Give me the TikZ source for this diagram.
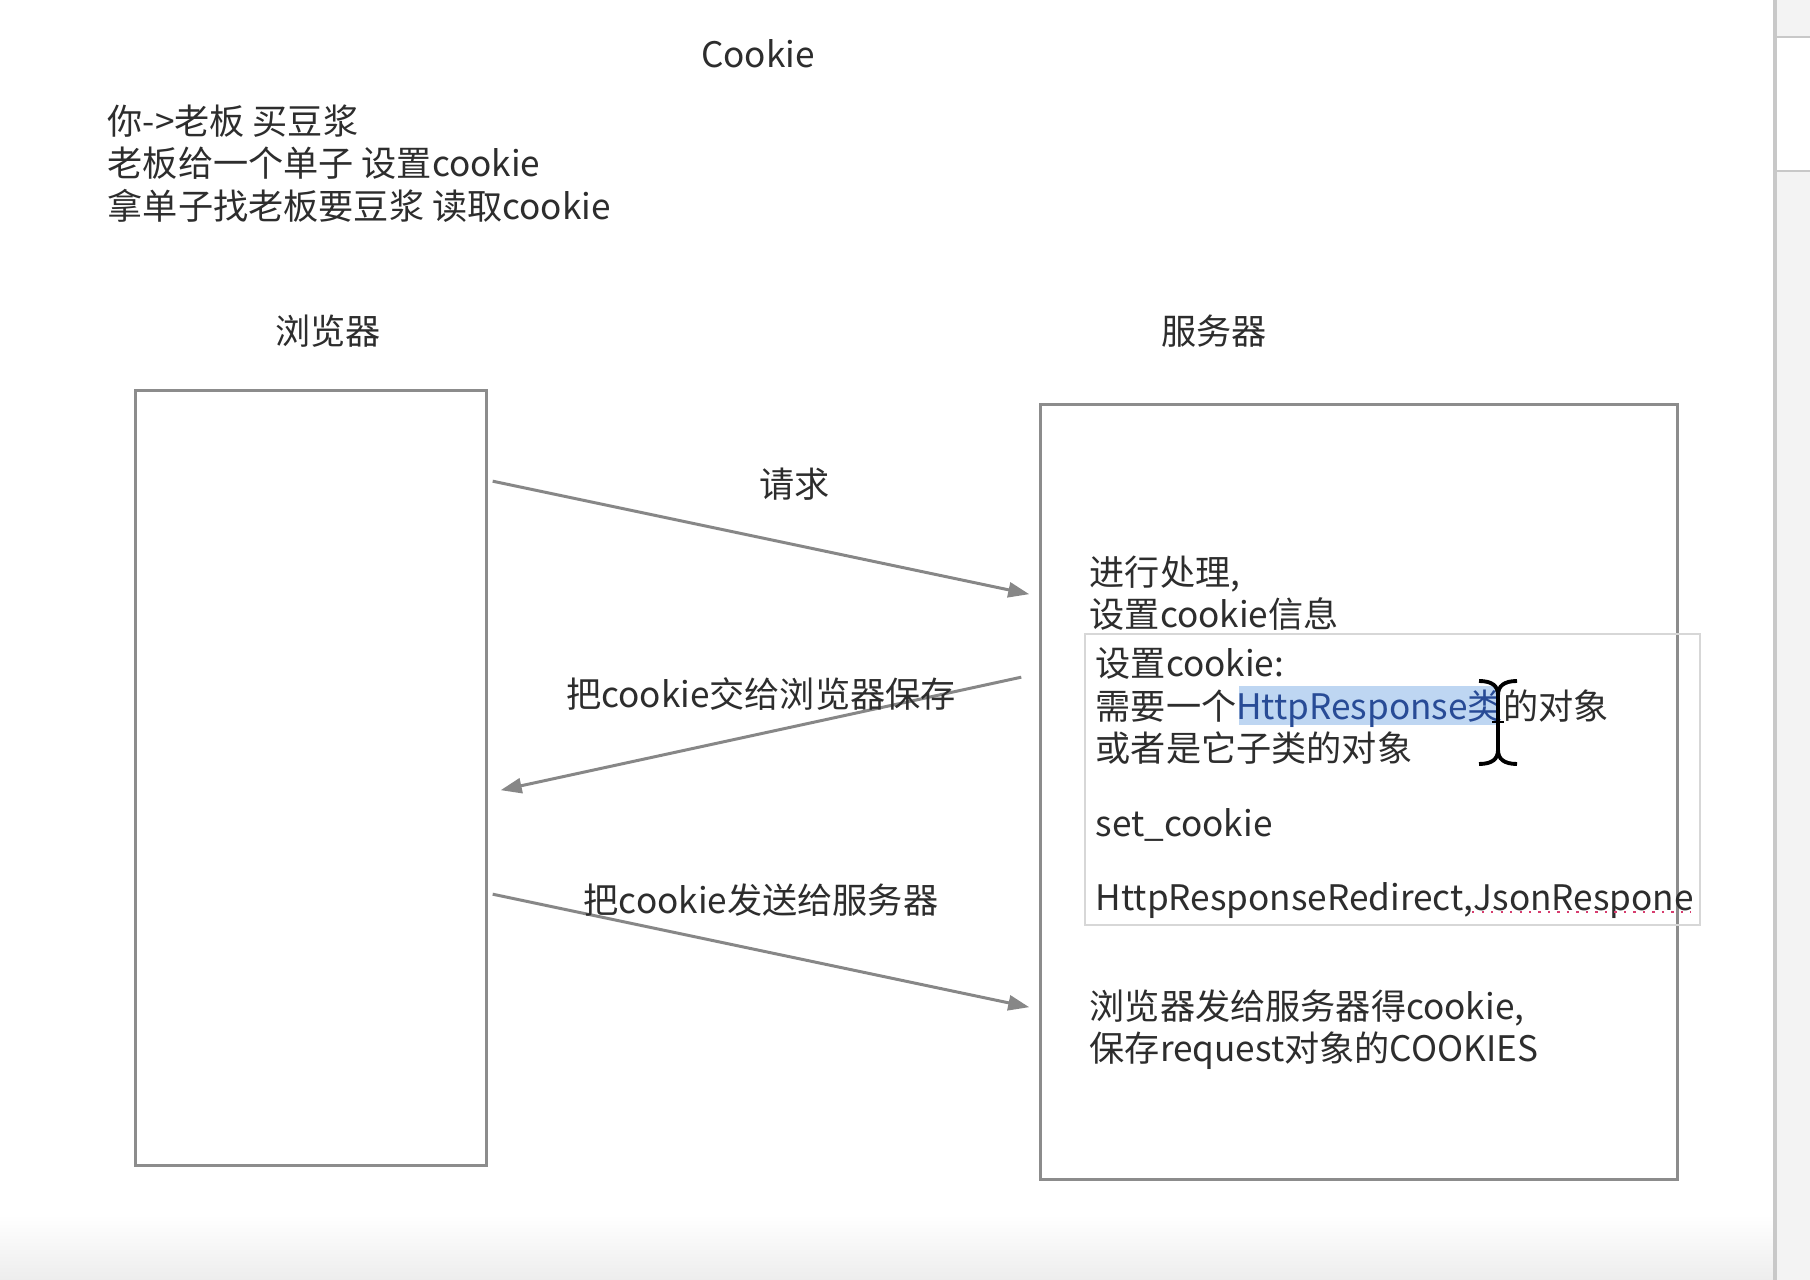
\documentclass[tikz,border=0pt]{standalone}
\usepackage{fontspec}
\usepackage{xcolor}
\usetikzlibrary{arrows.meta, positioning, calc}
\newfontfamily\cjk{Noto Sans CJK SC}
\definecolor{boxGray}{RGB}{140,140,140}
\definecolor{arrowGray}{RGB}{135,135,135}
\definecolor{textDark}{RGB}{45,45,45}
\definecolor{selBlue}{RGB}{190,214,242}
\definecolor{selText}{RGB}{40,75,150}
\definecolor{editGray}{RGB}{215,215,215}
\definecolor{squiggle}{RGB}{215,60,110}
\definecolor{sideGray}{RGB}{200,200,200}
\definecolor{panelGray}{RGB}{243,243,243}

\begin{document}
\begin{tikzpicture}[x=0.01cm, y=-0.01cm,
    txt/.style={font=\cjk\fontsize{10pt}{12.1pt}\selectfont, text=textDark,
        inner sep=0, align=left},
    party/.style={rectangle, draw=boxGray, line width=0.9pt, inner sep=0,
        minimum height=7.74cm},
    editbox/.style={rectangle, draw=editGray, line width=0.5pt, inner sep=0,
        minimum width=6.15cm, minimum height=2.91cm},
    arrow/.style={-{Triangle[length=0.21cm, width=0.15cm]}, line width=0.85pt, arrowGray}
]
\useasboundingbox[fill=white] (0,0) rectangle (1810,1280);
% window chrome on the right and at the bottom
\fill[panelGray] (1777,0) rectangle (1810,1280);
\fill[white] (1777,37) rectangle (1810,171);
\draw[sideGray, line width=0.5pt] (1777,37) -- (1810,37) (1777,171) -- (1810,171);
\shade[top color=white, bottom color=black!7] (0,1215) rectangle (1775,1280);
\draw[sideGray, line width=0.9pt] (1775,0) -- (1775,1280);

\node[txt] (title) at (758,54) {Cookie};
\node[txt, anchor=north west] (story) at (107,104)
    {你->老板 买豆浆\\
     老板给一个单子 设置cookie\\
     拿单子找老板要豆浆 读取cookie};

\node[party, minimum width=3.5cm] (browser) at (311,778) {};
\node[party, minimum width=6.36cm] (server) at (1359,792) {};
\node[txt] (browserlbl) at (328,331) {浏览器};
\node[txt] (serverlbl) at (1214,331) {服务器};

\node[txt, anchor=north west] (handle) at (1089,555)
    {进行处理,\\
     设置cookie信息};
\node[editbox] (edit) at (1392.5,779.5) {};
\fill[selBlue] (1239,686) rectangle (1497,725);
\node[txt, anchor=north west] (edittext) at (1095,647)
    {设置cookie:\\
     需要一个{\color{selText}HttpResponse类}的对象\\
     或者是它子类的对象\\[0.32cm]
     set\_cookie\\[0.32cm]
     HttpResponseRedirect,JsonRespone};
\draw[squiggle, line width=0.7pt, dotted] (1472,912) -- (1691,912);
% text cursor
\draw[black, line width=1.1pt]
    (1479,681) .. controls (1492,681) and (1498,686) .. (1498,695) -- (1498,750)
    .. controls (1498,759) and (1492,764) .. (1479,764);
\draw[black, line width=1.1pt]
    (1517,681) .. controls (1504,681) and (1498,686) .. (1498,695)
    (1498,750) .. controls (1498,759) and (1504,764) .. (1517,764);
\draw[black, line width=0.8pt] (1492,722) -- (1504,722);

\node[txt, anchor=north west] (received) at (1089,989)
    {浏览器发给服务器得cookie,\\
     保存request对象的COOKIES};

\coordinate (req-from) at ($(browser.north east)+(5,92)$);
\coordinate (req-to) at ($(server.north west)+(-10,191)$);
\coordinate (set-from) at ($(server.north west)+(-18,274)$);
\coordinate (set-to) at ($(browser.north east)+(13,401)$);
\coordinate (send-from) at ($(browser.north east)+(5,505)$);
\coordinate (send-to) at ($(server.north west)+(-10,604)$);

\draw[arrow] (req-from) -- (req-to)
    node[midway, xshift=0.34cm, yshift=0.53cm, txt] {请求};
\draw[arrow] (set-from) -- (set-to)
    node[midway, yshift=0.40cm, txt] {把cookie交给浏览器保存};
\draw[arrow] (send-from) -- (send-to)
    node[midway, yshift=0.51cm, txt] {把cookie发送给服务器};
\end{tikzpicture}
\end{document}
